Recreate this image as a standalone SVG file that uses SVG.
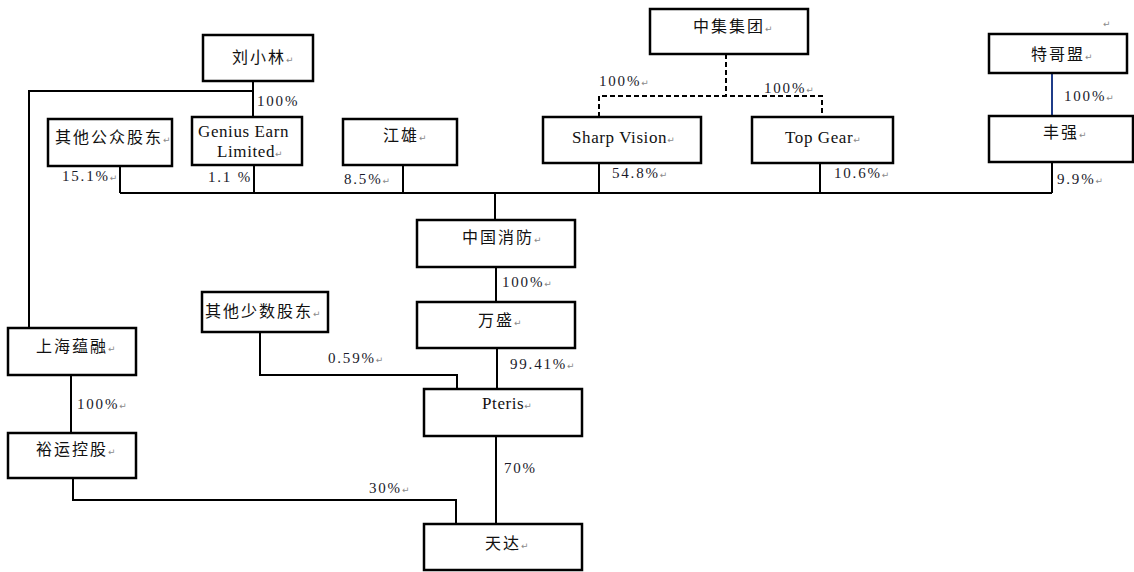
<svg xmlns="http://www.w3.org/2000/svg" width="1134" height="572" viewBox="0 0 1134 572">
<style>
rect.box{fill:#fff;stroke:#000;stroke-width:2.5}
.cn{font-family:"Liberation Serif","Noto Sans CJK SC",serif;font-size:16px;letter-spacing:2px;fill:#111}
.en{font-family:"Liberation Serif",serif;font-size:17px;letter-spacing:0.6px;fill:#111}
.pct{font-family:"Liberation Serif",serif;font-size:15px;letter-spacing:1.8px;fill:#1a1a2a}
.pm{font-family:"DejaVu Sans",sans-serif;font-size:9px;letter-spacing:0;fill:#8a8a8a}
.ln{fill:none;stroke:#000;stroke-width:2}
.dash{fill:none;stroke:#000;stroke-width:2;stroke-dasharray:5,3}
.blue{fill:none;stroke:#1f3c88;stroke-width:2}
</style>
<rect width="1134" height="572" fill="#fff"/>
<g id="connectors">
<path class="ln" d="M253,81 V117"/>
<path class="ln" d="M253,91 H29 V328"/>
<path class="ln" d="M120,166 V193"/>
<path class="ln" d="M254,165 V193"/>
<path class="ln" d="M403,165 V193"/>
<path class="ln" d="M599,163 V193"/>
<path class="ln" d="M820,163 V193"/>
<path class="ln" d="M1052,162 V193"/>
<path class="ln" d="M120,193 H1052"/>
<path class="ln" d="M495,193 V220"/>
<path class="dash" d="M726,54 V96"/>
<path class="dash" d="M599,117 V96 H822 V117"/>
<path class="blue" d="M1052,73 V116"/>
<path class="ln" d="M496,267 V302"/>
<path class="ln" d="M497,348 V389"/>
<path class="ln" d="M260,332 V375 H457 V389"/>
<path class="ln" d="M71,375 V433"/>
<path class="ln" d="M73,478 V500 H456 V524"/>
<path class="ln" d="M496,436 V524"/>
</g>
<g id="labels">
<text class="pct" x="257" y="106">100%</text>
<text class="pct" x="62" y="181">15.1%<tspan class="pm">↵</tspan></text>
<text class="pct" x="208" y="182">1.1 %</text>
<text class="pct" x="344" y="184">8.5%<tspan class="pm">↵</tspan></text>
<text class="pct" x="612" y="178">54.8%<tspan class="pm">↵</tspan></text>
<text class="pct" x="834" y="178">10.6%<tspan class="pm">↵</tspan></text>
<text class="pct" x="1057" y="184">9.9%<tspan class="pm">↵</tspan></text>
<text class="pct" x="599" y="86">100%<tspan class="pm">↵</tspan></text>
<text class="pct" x="764" y="93">100%<tspan class="pm">↵</tspan></text>
<text class="pct" x="1064" y="101">100%<tspan class="pm">↵</tspan></text>
<text class="pct" x="502" y="287">100%<tspan class="pm">↵</tspan></text>
<text class="pct" x="510" y="369">99.41%<tspan class="pm">↵</tspan></text>
<text class="pct" x="328" y="363">0.59%<tspan class="pm">↵</tspan></text>
<text class="pct" x="77" y="409">100%<tspan class="pm">↵</tspan></text>
<text class="pct" x="504" y="473">70%</text>
<text class="pct" x="369" y="493">30%<tspan class="pm">↵</tspan></text>
<text class="pm" x="1103" y="27">↵</text>
</g>
<g id="n-liuxiaolin"><rect class="box" x="203" y="35" width="110" height="46"/><text class="cn" x="232" y="63">刘小林<tspan class="pm">↵</tspan></text></g>
<g id="n-qitagongzhong"><rect class="box" x="48" y="119" width="124" height="47"/><text class="cn" x="55" y="143">其他公众股东<tspan class="pm">↵</tspan></text></g>
<g id="n-genius"><rect class="box" x="192" y="117" width="110" height="48"/><text class="en" x="198" y="137">Genius Earn</text><text class="en" x="217" y="157">Limited<tspan class="pm">↵</tspan></text></g>
<g id="n-jiangxiong"><rect class="box" x="343" y="119" width="114" height="46"/><text class="cn" x="383" y="141">江雄<tspan class="pm">↵</tspan></text></g>
<g id="n-cimc"><rect class="box" x="650" y="9" width="158" height="45"/><text class="cn" x="693" y="32">中集集团<tspan class="pm">↵</tspan></text></g>
<g id="n-sharpvision"><rect class="box" x="543" y="117" width="158" height="46"/><text class="en" x="572" y="143">Sharp Vision<tspan class="pm">↵</tspan></text></g>
<g id="n-topgear"><rect class="box" x="752" y="117" width="141" height="46"/><text class="en" x="785" y="143">Top Gear<tspan class="pm">↵</tspan></text></g>
<g id="n-tegemeng"><rect class="box" x="989" y="34" width="138" height="39"/><text class="cn" x="1031" y="60">特哥盟<tspan class="pm">↵</tspan></text></g>
<g id="n-fengqiang"><rect class="box" x="989" y="116" width="144" height="46"/><text class="cn" x="1043" y="138">丰强<tspan class="pm">↵</tspan></text></g>
<g id="n-zhongguoxiaofang"><rect class="box" x="417" y="220" width="158" height="47"/><text class="cn" x="462" y="243">中国消防<tspan class="pm">↵</tspan></text></g>
<g id="n-wansheng"><rect class="box" x="417" y="302" width="158" height="46"/><text class="cn" x="478" y="326">万盛<tspan class="pm">↵</tspan></text></g>
<g id="n-qitashaoshu"><rect class="box" x="202" y="292" width="126" height="40"/><text class="cn" x="205" y="317">其他少数股东<tspan class="pm">↵</tspan></text></g>
<g id="n-shanghaiyunrong"><rect class="box" x="8" y="328" width="128" height="47"/><text class="cn" x="36" y="352">上海蕴融<tspan class="pm">↵</tspan></text></g>
<g id="n-pteris"><rect class="box" x="424" y="389" width="158" height="47"/><text class="en" x="482" y="409">Pteris<tspan class="pm">↵</tspan></text></g>
<g id="n-yuyunkonggu"><rect class="box" x="8" y="433" width="128" height="45"/><text class="cn" x="36" y="455">裕运控股<tspan class="pm">↵</tspan></text></g>
<g id="n-tianda"><rect class="box" x="424" y="524" width="158" height="46"/><text class="cn" x="485" y="549">天达<tspan class="pm">↵</tspan></text></g>
</svg>
